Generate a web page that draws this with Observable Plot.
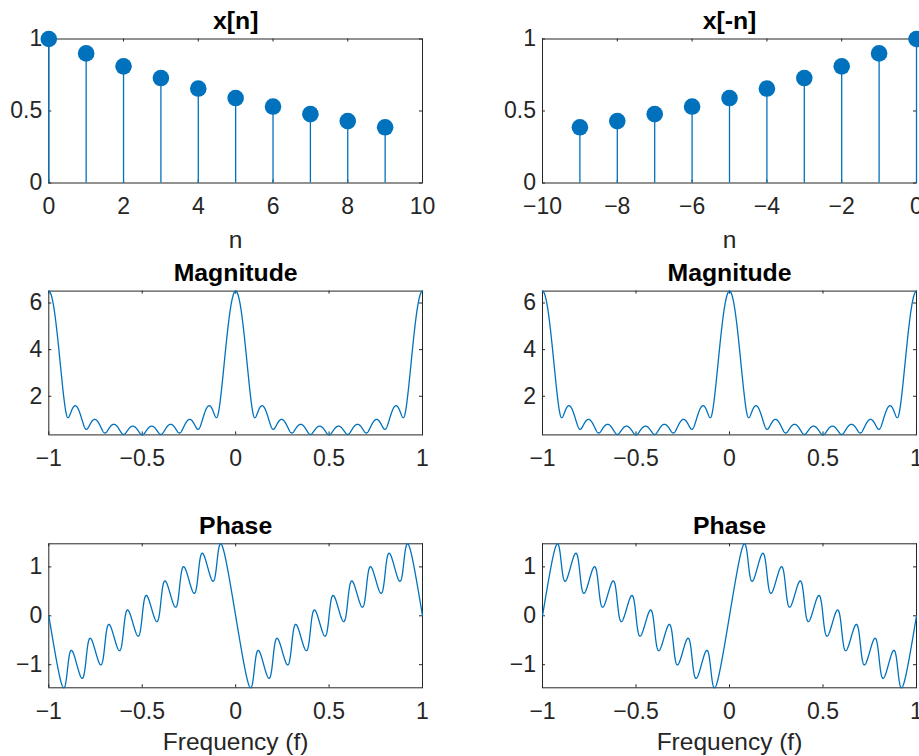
<!DOCTYPE html>
<html>
<head>
<meta charset="utf-8">
<script src="https://cdn.jsdelivr.net/npm/d3@7"></script>
<script src="https://cdn.jsdelivr.net/npm/@observablehq/plot@0.6"></script>
<style>
  html, body { margin: 0; padding: 0; background: #fff; overflow: hidden; }
  #fig { position: relative; width: 919px; height: 756px; background: #fff; overflow: hidden; }
  .panel { position: absolute; }
  .panel svg { max-width: none; overflow: visible; }
</style>
</head>
<body>
<div id="fig"></div>
<script>
// ---- data ----
const n = [0, 1, 2, 3, 4, 5, 6, 7, 8, 9];
const xn = [1, 0.9, 0.81, 0.729, 0.656, 0.59, 0.531, 0.478, 0.43, 0.387];
const nFlip = [-9, -8, -7, -6, -5, -4, -3, -2, -1, 0];
const xFlip = [0.387, 0.43, 0.478, 0.531, 0.59, 0.656, 0.729, 0.81, 0.9, 1];

const stemTicksLeft = [0, 2, 4, 6, 8, 10];
const stemTicksRight = [-10, -8, -6, -4, -2, 0];
const stemTicksY = [0, 0.5, 1];
const freqTicks = [-1, -0.5, 0, 0.5, 1];
const magTicks = [2, 4, 6];
const phaseTicks = [-1, 0, 1];

const titlesLeft = ["x[n]", "Magnitude", "Phase"];
const titlesRight = ["x[-n]", "Magnitude", "Phase"];
const stemLabel = "n";
const freqLabel = "Frequency (f)";

// frequency axis of the spectrum plots (f in [-1, 1])
const freq = d3.range(-1000, 1001).map(i => i / 1000);

// spectrum (DTFT) derived from the stem data above
function spectrum(ns, vs) {
  return freq.map(f => {
    let re = 0, im = 0;
    ns.forEach((k, i) => {
      const a = -2 * Math.PI * f * k;
      re += vs[i] * Math.cos(a);
      im += vs[i] * Math.sin(a);
    });
    return { f, mag: Math.hypot(re, im), phase: Math.atan2(im, re) };
  });
}

const stemL = n.map((k, i) => ({ n: k, v: xn[i] }));
const stemR = nFlip.map((k, i) => ({ n: k, v: xFlip[i] }));
const specL = spectrum(n, xn);
const specR = spectrum(nFlip, xFlip);

// ---- styling ----
const BLUE = "#0072BD";
const AX = "#262626";
const FONT = "'Liberation Sans', Arial, Helvetica, sans-serif";
const fmt = d => (d < 0 ? "\u2212" + Math.abs(d) : String(d));

function panel(o) {
  const fw = o.width - o.mL - o.mR;
  const fh = o.height - o.mT - o.mB;
  const marks = [
    Plot.frame({ stroke: AX, strokeWidth: 1 }),
    Plot.tickX(o.xTicks, { x: d => d, stroke: AX, insetTop: fh - 3 }),
    Plot.tickX(o.xTicks, { x: d => d, stroke: AX, insetBottom: fh - 3 }),
    Plot.tickY(o.yTicks, { y: d => d, stroke: AX, insetRight: fw - 3 }),
    Plot.tickY(o.yTicks, { y: d => d, stroke: AX, insetLeft: fw - 3 }),
    Plot.axisX(o.xTicks, { tickSize: 0, tickPadding: 14.5, tickFormat: fmt, label: null, fontSize: 23, fill: AX }),
    Plot.axisY(o.yTicks, { tickSize: 0, tickPadding: 6.5, tickFormat: fmt, label: null, fontSize: 23, fill: AX }),
    ...o.marks,
    Plot.text([o.title], { text: d => d, frameAnchor: "top", lineAnchor: "middle", dy: -17.7, fontWeight: "bold", fontSize: 24.8, fill: "#000" })
  ];
  if (o.label) {
    marks.push(Plot.text([o.label], { text: d => d, frameAnchor: "bottom", lineAnchor: "middle", dy: o.labelDy, fontSize: 24.5, fill: AX }));
  }
  const svg = Plot.plot({
    width: o.width,
    height: o.height,
    marginLeft: o.mL,
    marginRight: o.mR,
    marginTop: o.mT,
    marginBottom: o.mB,
    style: { fontFamily: FONT, fontSize: "23px", color: AX, background: "transparent", overflow: "visible" },
    x: { domain: o.xDomain, label: null },
    y: { domain: o.yDomain, label: null },
    marks
  });
  const div = document.createElement("div");
  div.className = "panel";
  div.style.left = o.left + "px";
  div.style.top = o.top + "px";
  div.style.width = o.width + "px";
  div.style.height = o.height + "px";
  div.appendChild(svg);
  document.getElementById("fig").appendChild(div);
}

const cols = [
  { left: 0, width: 460, mL: 48.3, mR: 38 },
  { left: 460, width: 459, mL: 82, mR: 3 }
];
const rows = [
  { top: 0, height: 250, mT: 38.5, mB: 67.5 },
  { top: 250, height: 250, mT: 40.6, mB: 65.6 },
  { top: 500, height: 256, mT: 43.3, mB: 68.7 }
];

const stemMarks = data => [
  Plot.ruleX(data, { x: "n", y1: 0, y2: "v", stroke: BLUE, strokeWidth: 1.3 }),
  Plot.dot(data, { x: "n", y: "v", r: 8.3, fill: BLUE, stroke: null })
];

[[stemL, specL, stemTicksLeft, [0, 10], titlesLeft], [stemR, specR, stemTicksRight, [-10, 0], titlesRight]]
  .forEach(([stem, spec, sTicks, sDom, titles], c) => {
    const col = cols[c];
    panel({ ...col, ...rows[0], xDomain: sDom, yDomain: [0, 1], xTicks: sTicks, yTicks: stemTicksY,
      title: titles[0], label: stemLabel, labelDy: 57, marks: stemMarks(stem) });
    panel({ ...col, ...rows[1], xDomain: [-1, 1], yDomain: d3.extent(spec, d => d.mag), xTicks: freqTicks, yTicks: magTicks,
      title: titles[1], marks: [Plot.line(spec, { x: "f", y: "mag", stroke: BLUE, strokeWidth: 1.3 })] });
    panel({ ...col, ...rows[2], xDomain: [-1, 1], yDomain: d3.extent(spec, d => d.phase), xTicks: freqTicks, yTicks: phaseTicks,
      title: titles[2], label: freqLabel, labelDy: 54, marks: [Plot.line(spec, { x: "f", y: "phase", stroke: BLUE, strokeWidth: 1.3 })] });
  });
</script>
</body>
</html>
